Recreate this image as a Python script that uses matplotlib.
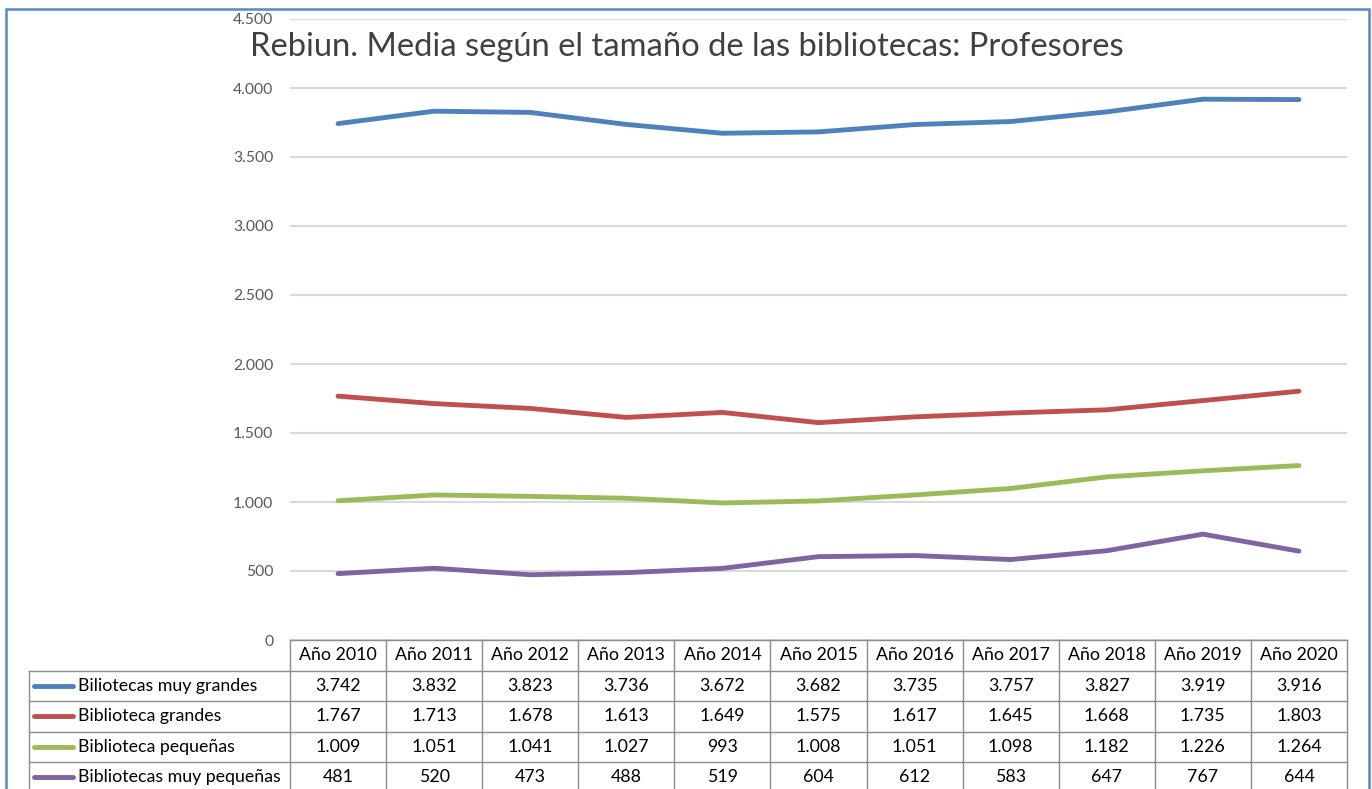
import matplotlib
matplotlib.use('Agg')
import matplotlib.pyplot as plt
from matplotlib.lines import Line2D
from matplotlib.patches import Rectangle
from matplotlib.ticker import FuncFormatter, MultipleLocator

plt.rcParams['font.family'] = ['Lato', 'DejaVu Sans']

years = ['Año 2010', 'Año 2011', 'Año 2012', 'Año 2013', 'Año 2014', 'Año 2015',
         'Año 2016', 'Año 2017', 'Año 2018', 'Año 2019', 'Año 2020']
series_names = ['Biliotecas muy grandes', 'Biblioteca grandes',
                'Biblioteca pequeñas', 'Bibliotecas muy pequeñas']
muy_grandes = [3742, 3832, 3823, 3736, 3672, 3682, 3735, 3757, 3827, 3919, 3916]
grandes = [1767, 1713, 1678, 1613, 1649, 1575, 1617, 1645, 1668, 1735, 1803]
pequenas = [1009, 1051, 1041, 1027, 993, 1008, 1051, 1098, 1182, 1226, 1264]
muy_pequenas = [481, 520, 473, 488, 519, 604, 612, 583, 647, 767, 644]
series = [muy_grandes, grandes, pequenas, muy_pequenas]
colors = ['#4f81bd', '#c0504d', '#9bbb59', '#8064a2']
title = 'Rebiun. Media según el tamaño de las bibliotecas: Profesores'


def fmt(v):
    return f'{int(v):,}'.replace(',', '.')


W, H = 1372, 789
fig = plt.figure(figsize=(W / 100, H / 100), dpi=100)
ax = fig.add_axes([290 / W, 1 - 640 / H, 1057 / W, 621 / H])

x = list(range(len(years)))
for vals, c in zip(series, colors):
    ax.plot(x, vals, color=c, lw=3.5, solid_joinstyle='round', solid_capstyle='round', zorder=3)

ax.set_xlim(-0.5, len(years) - 0.5)
ax.set_ylim(0, 4500)
ax.yaxis.set_major_locator(MultipleLocator(500))
ax.yaxis.set_major_formatter(FuncFormatter(lambda v, p: fmt(v)))
ax.grid(axis='y', color='#d9d9d9', lw=1.5)
ax.set_axisbelow(True)
for s in ax.spines.values():
    s.set_visible(False)
ax.tick_params(axis='y', length=0, pad=12, labelsize=11.3, labelcolor='#595959')
ax.tick_params(axis='x', length=0, labelbottom=False)

fig.text(250 / W, 1 - 47 / H, title, fontsize=23.6, color='#404040', va='center', ha='left')

# data table below the plot, columns aligned with the categories
fig.canvas.draw()
to_fig = fig.transFigure.inverted()
edges = [to_fig.transform(ax.transData.transform((i - 0.5, 0)))[0] for i in range(len(years) + 1)]
centers = [to_fig.transform(ax.transData.transform((i, 0)))[0] for i in range(len(years))]
top = ax.get_position().y0
row_h = 30.5 / H
label_left = 29 / W
line_kw = dict(color='#8c8c8c', lw=1, transform=fig.transFigure)
bottom = top - 6 * row_h

fig.add_artist(Line2D([edges[0], edges[-1]], [top, top], **line_kw))
for r in range(1, 5):
    y = top - r * row_h
    fig.add_artist(Line2D([label_left, edges[-1]], [y, y], **line_kw))
for e in edges:
    fig.add_artist(Line2D([e, e], [top, bottom], **line_kw))
fig.add_artist(Line2D([label_left, label_left], [top - row_h, bottom], **line_kw))

tsize = 12.8
for i, yr in enumerate(years):
    fig.text(centers[i], top - 0.5 * row_h, yr, ha='center', va='center', fontsize=tsize, color='black')
for r, (name, vals, c) in enumerate(zip(series_names, series, colors)):
    yc = top - (r + 1.5) * row_h
    fig.add_artist(Line2D([34 / W, 73 / W], [yc, yc], color=c, lw=3.5,
                          solid_capstyle='round', transform=fig.transFigure))
    fig.text(78 / W, yc, name, ha='left', va='center', fontsize=tsize, color='black')
    for i, v in enumerate(vals):
        fig.text(centers[i], yc, fmt(v), ha='center', va='center', fontsize=tsize, color='black')

# outer chart frame
fig.add_artist(Rectangle((6 / W, -0.05), 1363 / W, 1 - 9 / H + 0.05, transform=fig.transFigure,
                         fill=False, ec='#5b87c5', lw=1.8))

fig.savefig('out.png', dpi=100)
